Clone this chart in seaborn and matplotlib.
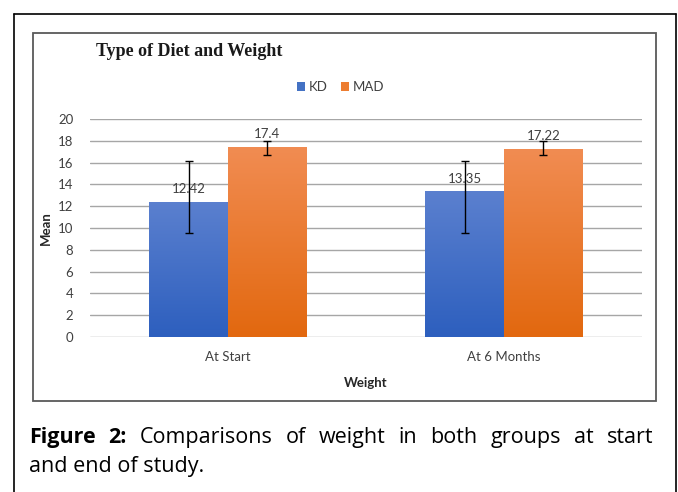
import numpy as np
import pandas as pd
import matplotlib
matplotlib.use("Agg")
import matplotlib.pyplot as plt
import seaborn as sns
from matplotlib.patches import Patch, Rectangle
from matplotlib.lines import Line2D
from matplotlib.colors import LinearSegmentedColormap

# ---- data ----
categories = ["At Start", "At 6 Months"]
groups = ["KD", "MAD"]
kd_mean = [12.42, 13.35]
mad_mean = [17.4, 17.22]
kd_err_low = [9.55, 9.55]
kd_err_high = [16.15, 16.15]
mad_err_low = [16.7, 16.7]
mad_err_high = [18.0, 18.0]
y_ticks = [0, 2, 4, 6, 8, 10, 12, 14, 16, 18, 20]

title = "Type of Diet and Weight"
x_label = "Weight"
y_label = "Mean"
caption_bold = ["Figure", "2:"]
caption_line1 = ["Comparisons", "of", "weight", "in", "both", "groups", "at", "start"]
caption_line2 = "and end of study."

# ---- styles ----
sns.set_theme(style="white")
plt.rcParams['font.family'] = ['Lato', 'DejaVu Sans']

W, H = 678, 492
fig = plt.figure(figsize=(W / 100, H / 100), dpi=100)
fig.patch.set_facecolor("white")


def fx(px):
    return px / W


def fy(py):
    return 1 - py / H


df = pd.DataFrame({
    "Weight": categories * 2,
    "Diet": [groups[0]] * len(categories) + [groups[1]] * len(categories),
    "Mean": kd_mean + mad_mean,
})

ax = fig.add_axes([fx(90), fy(337), (642 - 90) / W, (337 - 119) / H])
sns.barplot(data=df, x="Weight", y="Mean", hue="Diet", order=categories,
            hue_order=groups, width=0.57, errorbar=None,
            palette=["#4472C4", "#ED7D31"], ax=ax, legend=False,
            linewidth=0, saturation=1)

grad_colors = [("#2d5fbe", "#5b80cf"), ("#e2680f", "#f18c52")]
lows = [kd_err_low, mad_err_low]
highs = [kd_err_high, mad_err_high]
means = [kd_mean, mad_mean]
grad = np.linspace(0, 1, 256).reshape(-1, 1)
bar_conts = list(ax.containers[:2])
for gi, cont in enumerate(bar_conts):
    cmap = LinearSegmentedColormap.from_list(f"g{gi}", grad_colors[gi])
    centers = []
    for bar in cont:
        x0, w, h = bar.get_x(), bar.get_width(), bar.get_height()
        im = ax.imshow(grad, extent=[x0, x0 + w, 0, h], origin="lower",
                       cmap=cmap, aspect="auto", zorder=2)
        im.set_clip_path(bar)
        bar.set_facecolor("none")
        centers.append(x0 + w / 2)
    m = np.array(means[gi])
    lo = m - np.array(lows[gi])
    hi = np.array(highs[gi]) - m
    ax.errorbar(centers, m, yerr=[lo, hi], fmt="none", ecolor="black",
                elinewidth=1.0, capsize=3.2, capthick=1.0, zorder=5)
    for cx, v in zip(centers, m):
        ax.annotate(f"{v:g}", (cx, v), xytext=(0, 5), textcoords="offset points",
                    ha="center", va="bottom", fontsize=9.5, color="#404040", zorder=6)

ax.set_xlim(-0.5, 1.5)
ax.set_ylim(0, 20)
ax.set_yticks(y_ticks)
ax.yaxis.grid(True, color="#a6a6a6", linewidth=1.0)
ax.xaxis.grid(False)
ax.set_axisbelow(True)
for s in ax.spines.values():
    s.set_visible(False)
ax.tick_params(axis="both", length=0, labelsize=9.5, colors="#404040")
ax.tick_params(axis="y", pad=12)
ax.tick_params(axis="x", pad=10)
ax.set_xlabel(x_label, fontsize=9.5, fontweight="bold", color="#262626", labelpad=10)
ax.set_ylabel(y_label, fontsize=9.5, fontweight="bold", color="#262626", labelpad=4)
ax.set_facecolor("none")

# title
fig.text(fx(96), fy(52), title, fontsize=13, fontweight="bold",
         family=["Liberation Serif", "DejaVu Serif"], color="#1a1a1a",
         ha="left", va="center")

# legend
handles = [Patch(facecolor="#4472C4", edgecolor="none", label=groups[0]),
           Patch(facecolor="#ED7D31", edgecolor="none", label=groups[1])]
fig.legend(handles=handles, loc="center", bbox_to_anchor=(fx(341), fy(87)),
           ncol=2, frameon=False, fontsize=9.5, handlelength=0.6, handleheight=0.6,
           handletextpad=0.3, columnspacing=1.0, labelcolor="#404040")

# boxes
fig.add_artist(Rectangle((fx(32.5), fy(401)), fx(656) - fx(32.5), fy(33) - fy(401),
                         transform=fig.transFigure, fill=False,
                         edgecolor="#595959", linewidth=1.3))
for xs, ys in [([13.5, 675.5], [14, 14]), ([13.5, 13.5], [14, 495]),
               ([675.5, 675.5], [14, 495])]:
    fig.add_artist(Line2D([fx(x) for x in xs], [fy(y) for y in ys],
                          transform=fig.transFigure, color="black", linewidth=1.2))

# caption, line 1 justified
renderer = fig.canvas.get_renderer()
cap_size = 15.5
cap_family = ["Open Sans", "DejaVu Sans"]
words = [(w_, "bold") for w_ in caption_bold] + [(w_, "normal") for w_ in caption_line1]
texts = []
for w_, wt in words:
    t = fig.text(0, fy(443), w_, fontsize=cap_size, fontweight=wt, color="black",
                 family=cap_family, ha="left", va="baseline")
    texts.append(t)
widths = [t.get_window_extent(renderer).width for t in texts]
left, right = 29, 653
gap = (right - left - sum(widths)) / (len(widths) - 1)
xpos = left
for t, wd in zip(texts, widths):
    t.set_x(fx(xpos))
    xpos += wd + gap
fig.text(fx(29), fy(472), caption_line2, fontsize=cap_size, color="black",
         family=cap_family, ha="left", va="baseline")

fig.savefig("out.png", dpi=100)
